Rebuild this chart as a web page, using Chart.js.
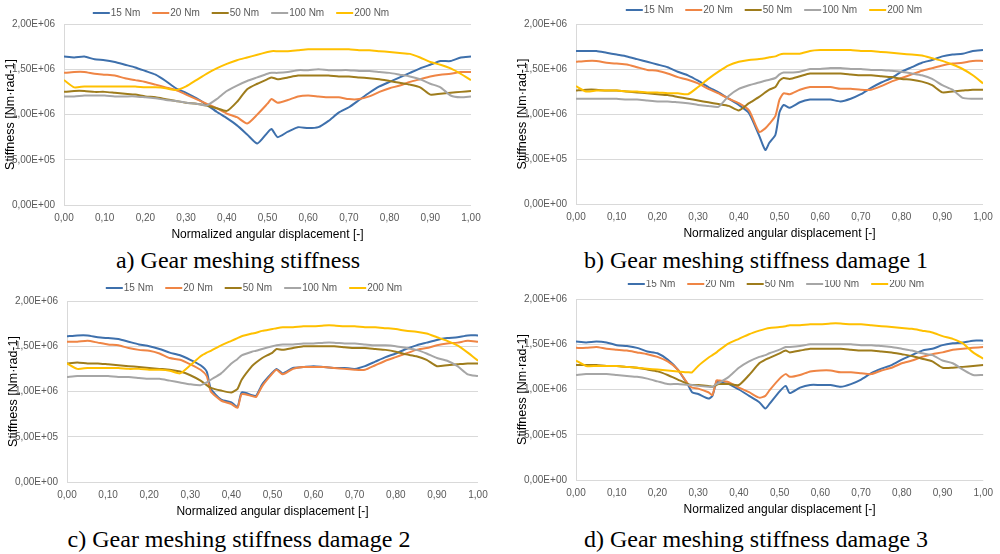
<!DOCTYPE html>
<html>
<head>
<meta charset="utf-8">
<script src="https://cdn.jsdelivr.net/npm/chart.js@4.4.1/dist/chart.umd.min.js"></script>
<style>
  body { margin: 0; background: #fff; width: 1000px; height: 554px; position: relative; overflow: hidden; }
  .box { position: absolute; }
  .cap { position: absolute; width: 420px; text-align: center; white-space: nowrap; color: #000;
         font: 24px "Liberation Serif", "Times New Roman", serif; line-height: 24px; }
</style>
</head>
<body>
<div class="box" style="left:0px;top:0px;width:490px;height:242px"><canvas id="chartA"></canvas></div>
<div class="box" style="left:512px;top:0px;width:488px;height:241px"><canvas id="chartB"></canvas></div>
<div class="box" style="left:3px;top:280px;width:495px;height:239px"><canvas id="chartC"></canvas></div>
<div class="box" style="left:512px;top:280px;width:488px;height:237px"><canvas id="chartD"></canvas></div>
<div class="cap" style="left:28px;top:248px">a) Gear meshing stiffness</div>
<div class="cap" style="left:546px;top:248px">b) Gear meshing stiffness damage 1</div>
<div class="cap" style="left:29px;top:527px">c) Gear meshing stiffness damage 2</div>
<div class="cap" style="left:546px;top:527px">d) Gear meshing stiffness damage 3</div>
<script>
const seriesLabels = ["15 Nm", "20 Nm", "50 Nm", "100 Nm", "200 Nm"];
const seriesColors = ["#3e70ac", "#ef8545", "#9e7c1c", "#a6a6a6", "#ffc000"];

// stiffness values below are in 1E+06 Nm/rad

// a) Gear meshing stiffness
const xA = [0, .025, .05, .075, .1, .125, .15, .175, .2, .225, .25, .275, .3, .325, .35, .375, .4, .425, .45, .475,
  .5, .51, .525, .55, .575, .6, .625, .65, .675, .7, .725, .75, .775, .8, .825, .85, .875, .9, .925, .95, .975, 1];
const a15 = [1.64, 1.63, 1.64, 1.61, 1.60, 1.58, 1.55, 1.52, 1.48, 1.44, 1.37, 1.29, 1.24, 1.18, 1.11, 1.03, 0.96, 0.88, 0.78, 0.68,
  0.80, 0.84, 0.75, 0.81, 0.86, 0.85, 0.86, 0.93, 1.02, 1.08, 1.16, 1.24, 1.31, 1.36, 1.41, 1.46, 1.51, 1.55, 1.59, 1.59, 1.63, 1.64];
const a20 = [1.46, 1.47, 1.47, 1.45, 1.44, 1.43, 1.40, 1.38, 1.36, 1.33, 1.30, 1.27, 1.22, 1.17, 1.12, 1.07, 1.01, 0.97, 0.90, 1.00,
  1.12, 1.17, 1.13, 1.16, 1.20, 1.21, 1.20, 1.19, 1.19, 1.17, 1.17, 1.20, 1.25, 1.29, 1.32, 1.36, 1.39, 1.42, 1.44, 1.45, 1.47, 1.47];
const a50 = [1.25, 1.26, 1.26, 1.25, 1.25, 1.24, 1.23, 1.22, 1.20, 1.19, 1.17, 1.15, 1.13, 1.12, 1.10, 1.07, 1.04, 1.14, 1.28, 1.34,
  1.39, 1.41, 1.39, 1.41, 1.43, 1.43, 1.43, 1.43, 1.42, 1.42, 1.41, 1.40, 1.39, 1.37, 1.35, 1.33, 1.30, 1.22, 1.23, 1.24, 1.25, 1.26];
const a100 = [1.20, 1.20, 1.21, 1.21, 1.21, 1.20, 1.20, 1.20, 1.19, 1.18, 1.16, 1.15, 1.13, 1.12, 1.10, 1.17, 1.26, 1.32, 1.37, 1.41,
  1.45, 1.46, 1.46, 1.47, 1.49, 1.49, 1.50, 1.49, 1.49, 1.49, 1.48, 1.48, 1.47, 1.46, 1.44, 1.42, 1.39, 1.34, 1.30, 1.21, 1.19, 1.20];
const a200 = [1.38, 1.30, 1.31, 1.31, 1.31, 1.31, 1.31, 1.31, 1.30, 1.30, 1.29, 1.27, 1.31, 1.38, 1.45, 1.51, 1.56, 1.60, 1.63, 1.66,
  1.69, 1.70, 1.70, 1.70, 1.71, 1.72, 1.72, 1.72, 1.72, 1.72, 1.71, 1.71, 1.70, 1.69, 1.68, 1.67, 1.63, 1.58, 1.55, 1.51, 1.45, 1.38];

// b) damage 1
const xB = [0, .025, .05, .075, .1, .125, .15, .175, .2, .225, .25, .275, .3, .325, .35, .375, .4, .425, .45, .465,
  .475, .49, .5, .51, .525, .55, .575, .6, .625, .65, .675, .7, .725, .75, .775, .8, .825, .85, .875, .9, .925, .95, .975, 1];
const b15 = [1.70, 1.70, 1.70, 1.68, 1.66, 1.64, 1.61, 1.58, 1.55, 1.52, 1.47, 1.43, 1.37, 1.30, 1.24, 1.17, 1.10, 1.01, 0.76, 0.60,
  0.68, 0.77, 1.02, 1.10, 1.07, 1.13, 1.16, 1.16, 1.16, 1.14, 1.17, 1.22, 1.29, 1.35, 1.40, 1.47, 1.52, 1.57, 1.60, 1.64, 1.66, 1.67, 1.70, 1.71];
const b20 = [1.58, 1.59, 1.59, 1.57, 1.56, 1.55, 1.52, 1.49, 1.48, 1.45, 1.41, 1.38, 1.34, 1.28, 1.23, 1.17, 1.12, 1.04, 0.80, 0.84,
  0.89, 0.98, 1.16, 1.23, 1.22, 1.27, 1.30, 1.30, 1.30, 1.28, 1.28, 1.27, 1.27, 1.31, 1.36, 1.40, 1.44, 1.48, 1.51, 1.54, 1.56, 1.57, 1.59, 1.59];
const b50 = [1.26, 1.27, 1.27, 1.26, 1.26, 1.25, 1.24, 1.23, 1.22, 1.21, 1.19, 1.17, 1.15, 1.13, 1.11, 1.09, 1.04, 1.12, 1.19, 1.24,
  1.27, 1.30, 1.37, 1.40, 1.39, 1.42, 1.45, 1.45, 1.45, 1.45, 1.44, 1.43, 1.43, 1.42, 1.41, 1.39, 1.38, 1.36, 1.32, 1.24, 1.25, 1.26, 1.27, 1.27];
const b100 = [1.17, 1.17, 1.17, 1.17, 1.17, 1.16, 1.16, 1.15, 1.14, 1.14, 1.13, 1.12, 1.10, 1.09, 1.08, 1.20, 1.28, 1.32, 1.35, 1.37,
  1.38, 1.40, 1.44, 1.46, 1.46, 1.47, 1.50, 1.50, 1.51, 1.51, 1.50, 1.50, 1.49, 1.49, 1.48, 1.47, 1.45, 1.43, 1.39, 1.32, 1.27, 1.18, 1.17, 1.17];
const b200 = [1.31, 1.25, 1.26, 1.26, 1.26, 1.25, 1.25, 1.24, 1.24, 1.23, 1.23, 1.22, 1.30, 1.39, 1.47, 1.54, 1.58, 1.60, 1.61, 1.62,
  1.63, 1.64, 1.66, 1.67, 1.67, 1.67, 1.70, 1.71, 1.71, 1.71, 1.71, 1.70, 1.70, 1.69, 1.68, 1.67, 1.66, 1.65, 1.62, 1.59, 1.55, 1.50, 1.43, 1.34];

// c) damage 2
const xC = [0, .025, .05, .075, .1, .125, .15, .175, .2, .225, .25, .275, .3, .325, .34, .35, .375, .4, .415, .425,
  .45, .46, .475, .5, .51, .525, .55, .575, .6, .625, .65, .675, .7, .725, .75, .775, .8, .825, .85, .875, .9, .925, .95, .975, 1];
const c15 = [1.61, 1.62, 1.62, 1.60, 1.59, 1.58, 1.55, 1.52, 1.50, 1.47, 1.43, 1.40, 1.35, 1.29, 1.22, 1.03, 0.91, 0.88, 0.83, 0.99,
  0.96, 0.95, 1.08, 1.21, 1.25, 1.20, 1.26, 1.27, 1.28, 1.27, 1.26, 1.26, 1.25, 1.28, 1.33, 1.38, 1.42, 1.47, 1.51, 1.54, 1.57, 1.59, 1.60, 1.62, 1.62];
const c20 = [1.55, 1.55, 1.56, 1.54, 1.52, 1.51, 1.48, 1.46, 1.45, 1.42, 1.37, 1.35, 1.30, 1.24, 1.17, 1.00, 0.90, 0.86, 0.82, 0.97,
  0.95, 0.94, 1.06, 1.20, 1.24, 1.19, 1.25, 1.27, 1.27, 1.27, 1.26, 1.25, 1.24, 1.24, 1.29, 1.34, 1.38, 1.42, 1.46, 1.48, 1.51, 1.53, 1.54, 1.56, 1.55];
const c50 = [1.31, 1.32, 1.31, 1.31, 1.30, 1.29, 1.28, 1.27, 1.26, 1.25, 1.24, 1.22, 1.18, 1.12, 1.07, 1.04, 1.01, 0.99, 1.03, 1.13,
  1.28, 1.32, 1.37, 1.43, 1.47, 1.46, 1.48, 1.50, 1.50, 1.50, 1.50, 1.49, 1.48, 1.48, 1.47, 1.46, 1.44, 1.41, 1.39, 1.35, 1.28, 1.29, 1.30, 1.31, 1.31];
const c100 = [1.16, 1.17, 1.17, 1.17, 1.17, 1.16, 1.16, 1.15, 1.14, 1.14, 1.12, 1.10, 1.08, 1.07, 1.10, 1.13, 1.20, 1.31, 1.36, 1.40,
  1.44, 1.45, 1.47, 1.50, 1.51, 1.52, 1.52, 1.53, 1.53, 1.54, 1.54, 1.53, 1.53, 1.52, 1.51, 1.51, 1.50, 1.48, 1.46, 1.42, 1.37, 1.34, 1.28, 1.19, 1.17];
const c200 = [1.31, 1.25, 1.26, 1.26, 1.26, 1.26, 1.25, 1.25, 1.24, 1.24, 1.23, 1.20, 1.29, 1.39, 1.43, 1.45, 1.51, 1.56, 1.59, 1.61,
  1.64, 1.65, 1.67, 1.69, 1.70, 1.71, 1.71, 1.72, 1.72, 1.73, 1.73, 1.72, 1.72, 1.71, 1.71, 1.70, 1.69, 1.67, 1.66, 1.64, 1.60, 1.56, 1.51, 1.43, 1.34];

// d) damage 3
const xD = [0, .025, .05, .075, .1, .125, .15, .175, .2, .225, .25, .275, .285, .3, .325, .335, .345, .35, .375, .4,
  .425, .45, .465, .475, .5, .515, .525, .55, .575, .6, .625, .65, .675, .7, .725, .75, .775, .8, .825, .85, .875, .9, .925, .95, .975, 1];
const d15 = [1.53, 1.52, 1.53, 1.52, 1.49, 1.48, 1.46, 1.42, 1.40, 1.33, 1.22, 1.05, 0.97, 0.95, 0.90, 0.93, 1.09, 1.08, 1.06, 1.00,
  0.93, 0.86, 0.79, 0.84, 0.98, 1.04, 0.96, 1.02, 1.05, 1.05, 1.05, 1.03, 1.06, 1.11, 1.18, 1.23, 1.27, 1.33, 1.38, 1.43, 1.45, 1.49, 1.51, 1.52, 1.54, 1.54];
const d20 = [1.46, 1.46, 1.47, 1.45, 1.44, 1.43, 1.41, 1.39, 1.36, 1.31, 1.22, 1.06, 1.02, 1.01, 0.97, 0.94, 1.10, 1.10, 1.08, 1.02,
  0.97, 0.91, 0.93, 0.99, 1.12, 1.17, 1.14, 1.16, 1.20, 1.21, 1.21, 1.19, 1.19, 1.18, 1.17, 1.21, 1.24, 1.29, 1.32, 1.36, 1.39, 1.41, 1.44, 1.45, 1.46, 1.47];
const d50 = [1.27, 1.27, 1.27, 1.26, 1.26, 1.25, 1.24, 1.22, 1.20, 1.16, 1.11, 1.06, 1.05, 1.05, 1.04, 1.03, 1.05, 1.06, 1.06, 1.05,
  1.16, 1.29, 1.33, 1.35, 1.40, 1.43, 1.41, 1.43, 1.45, 1.45, 1.45, 1.45, 1.44, 1.43, 1.43, 1.42, 1.41, 1.39, 1.37, 1.34, 1.31, 1.24, 1.24, 1.25, 1.26, 1.27];
const d100 = [1.16, 1.17, 1.17, 1.17, 1.16, 1.15, 1.14, 1.12, 1.09, 1.06, 1.06, 1.05, 1.05, 1.04, 1.03, 1.03, 1.06, 1.07, 1.14, 1.24,
  1.31, 1.36, 1.38, 1.40, 1.44, 1.47, 1.47, 1.48, 1.50, 1.50, 1.50, 1.50, 1.50, 1.49, 1.49, 1.48, 1.47, 1.45, 1.43, 1.40, 1.38, 1.32, 1.29, 1.22, 1.16, 1.16];
const d200 = [1.32, 1.26, 1.26, 1.26, 1.26, 1.25, 1.24, 1.23, 1.22, 1.21, 1.20, 1.19, 1.19, 1.26, 1.35, 1.38, 1.41, 1.43, 1.51, 1.56,
  1.61, 1.65, 1.67, 1.68, 1.69, 1.70, 1.71, 1.71, 1.72, 1.72, 1.73, 1.73, 1.72, 1.72, 1.71, 1.70, 1.69, 1.68, 1.67, 1.65, 1.63, 1.59, 1.56, 1.51, 1.41, 1.34];

const yTicks = [0, 5e5, 1e6, 1.5e6, 2e6];

const smallFont = { family: '"Liberation Sans Narrow", "Liberation Sans", Arial, sans-serif', size: 10 };

function sci(v) {
  if (v === 0) return "0,00E+00";
  const e = Math.floor(Math.log10(v) + 1e-9);
  const m = v / Math.pow(10, e);
  return m.toFixed(2).replace(".", ",") + "E+" + String(e).padStart(2, "0");
}

// Excel-like legend: short line then label, centred at (cx, cy)
const lineLegend = {
  id: "lineLegend",
  afterDraw(chart, args, opts) {
    const ctx = chart.ctx;
    ctx.save();
    ctx.font = "10px " + smallFont.family;
    ctx.textBaseline = "middle";
    const items = chart.data.datasets.map(ds => ({
      text: ds.label, color: ds.borderColor, w: 18 + ctx.measureText(ds.label).width
    }));
    const gap = 12;
    const total = items.reduce((s, it) => s + it.w, 0) + gap * (items.length - 1);
    let x = opts.cx - total / 2;
    items.forEach(it => {
      ctx.strokeStyle = it.color;
      ctx.lineWidth = 2;
      ctx.beginPath();
      ctx.moveTo(x, opts.cy);
      ctx.lineTo(x + 17, opts.cy);
      ctx.stroke();
      ctx.fillStyle = "#595959";
      ctx.fillText(it.text, x + 18, opts.cy + 0.5);
      x += it.w + gap;
    });
    ctx.restore();
  }
};

function makeChart(id, xs, series, lay) {
  const datasets = series.map((ys, i) => ({
    label: seriesLabels[i],
    data: xs.map((x, j) => ({ x: x, y: ys[j] * 1e6 })),
    borderColor: seriesColors[i],
    backgroundColor: seriesColors[i],
    borderWidth: 2,
    pointRadius: 0,
    tension: 0.2,
    order: series.length - i
  }));
  return new Chart(document.getElementById(id), {
    type: "line",
    data: { datasets },
    plugins: [lineLegend],
    options: {
      responsive: true,
      maintainAspectRatio: false,
      animation: false,
      layout: { padding: { left: 3, right: lay.padR, top: lay.padTop, bottom: 0 } },
      plugins: {
        legend: { display: false },
        tooltip: { enabled: false },
        lineLegend: { cx: lay.cx, cy: lay.cy }
      },
      scales: {
        x: {
          type: "linear",
          min: 0,
          max: 1,
          grid: { display: false, drawTicks: false },
          border: { display: false },
          ticks: {
            stepSize: 0.1,
            maxRotation: 0,
            padding: 7,
            color: "#595959",
            font: smallFont,
            callback: v => v.toFixed(2).replace(".", ",")
          },
          title: {
            display: true,
            text: "Normalized angular displacement [-]",
            color: "#000",
            padding: 0,
            font: { family: '"Liberation Sans", Arial, sans-serif', size: 12 }
          },
          afterFit: s => { s.height = 37; }
        },
        y: {
          min: 0,
          max: 2e6,
          afterBuildTicks: s => { s.ticks = yTicks.map(v => ({ value: v })); },
          grid: { color: "#d9d9d9", drawTicks: false },
          border: { color: "#d9d9d9" },
          ticks: { padding: 9, color: "#595959", font: smallFont, callback: v => sci(v) },
          title: {
            display: true,
            text: "Stiffness [Nm·rad-1]",
            color: "#000",
            padding: 0,
            font: { family: '"Liberation Sans", Arial, sans-serif', size: 12.5 }
          },
          afterFit: s => { s.width = 61; }
        }
      }
    }
  });
}

makeChart("chartA", xA, [a15, a20, a50, a100, a200], { padTop: 24, padR: 19, cx: 241, cy: 13 });
makeChart("chartB", xB, [b15, b20, b50, b100, b200], { padTop: 24, padR: 17, cx: 262, cy: 10 });
makeChart("chartC", xC, [c15, c20, c50, c100, c200], { padTop: 21, padR: 20, cx: 251, cy: 8 });
makeChart("chartD", xD, [d15, d20, d50, d100, d200], { padTop: 19, padR: 15, cx: 264, cy: 4 });
</script>
</body>
</html>
